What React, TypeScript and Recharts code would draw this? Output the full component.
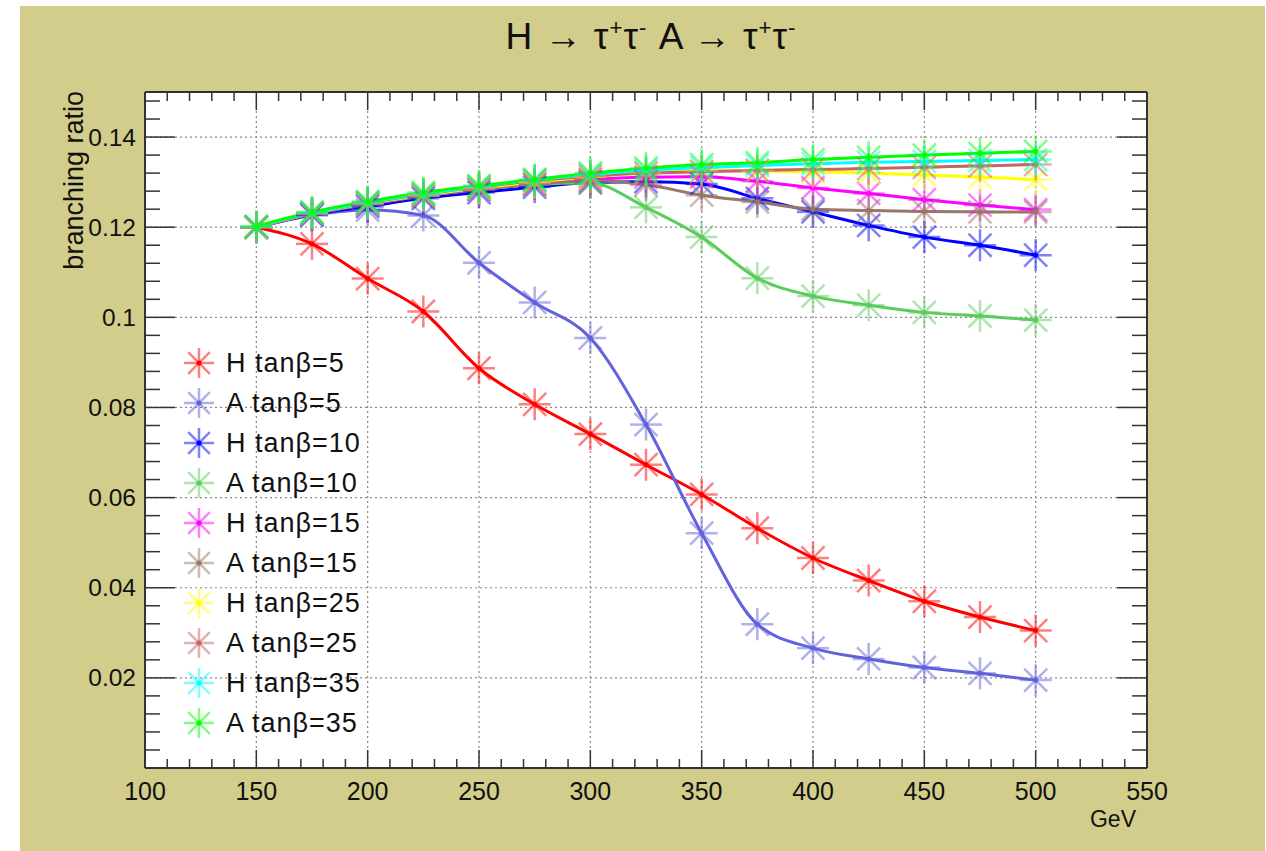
import React from "react";
import { LineChart, Line, XAxis, YAxis, CartesianGrid, Legend, ReferenceLine } from "recharts";

// Higgs masses (GeV)
const masses = [150, 175, 200, 225, 250, 275, 300, 325, 350, 375, 400, 425, 450, 475, 500];

// branching ratio to tau tau, per boson and tan(beta)
const hTanb5 = [0.12, 0.1163, 0.1086, 0.1013, 0.0887, 0.0807, 0.0741, 0.0673, 0.0607, 0.0532, 0.0466, 0.0416, 0.037, 0.0335, 0.0305];
const aTanb5 = [0.12, 0.1226, 0.1238, 0.1226, 0.1121, 0.1033, 0.0954, 0.0762, 0.0521, 0.0319, 0.0266, 0.0242, 0.0223, 0.021, 0.0195];
const hTanb10 = [0.12, 0.1228, 0.1246, 0.1264, 0.1277, 0.1289, 0.1299, 0.1301, 0.1296, 0.1264, 0.1234, 0.1204, 0.1178, 0.116, 0.1138];
const aTanb10 = [0.12, 0.123, 0.1252, 0.127, 0.1284, 0.1295, 0.1298, 0.1244, 0.1178, 0.1087, 0.1047, 0.1027, 0.1011, 0.1003, 0.0994];
const hTanb15 = [0.12, 0.123, 0.1251, 0.1269, 0.1284, 0.1296, 0.1306, 0.1311, 0.1312, 0.1302, 0.1287, 0.1275, 0.1261, 0.1249, 0.1239];
const aTanb15 = [0.12, 0.123, 0.1251, 0.1269, 0.1284, 0.1296, 0.1303, 0.1294, 0.1271, 0.1256, 0.124, 0.1237, 0.1235, 0.1234, 0.1234];
const hTanb25 = [0.12, 0.1231, 0.1253, 0.1271, 0.1287, 0.13, 0.1312, 0.132, 0.1325, 0.1325, 0.1323, 0.132, 0.1316, 0.1311, 0.1306];
const aTanb25 = [0.12, 0.1231, 0.1254, 0.1273, 0.1289, 0.1303, 0.1313, 0.132, 0.1323, 0.1326, 0.1328, 0.133, 0.1333, 0.1336, 0.1339];
const hTanb35 = [0.1201, 0.1232, 0.1255, 0.1274, 0.129, 0.1305, 0.1317, 0.1326, 0.1332, 0.1337, 0.1341, 0.1344, 0.1346, 0.1348, 0.135];
const aTanb35 = [0.1202, 0.1234, 0.1257, 0.1277, 0.1292, 0.1306, 0.132, 0.1331, 0.1339, 0.1343, 0.135, 0.1355, 0.136, 0.1364, 0.1368];

// labelled (major) ticks
const xTicks = [100, 150, 200, 250, 300, 350, 400, 450, 500, 550];
const yTicks = [0.02, 0.04, 0.06, 0.08, 0.1, 0.12, 0.14];

const series = [
  { key: "hTanb5", name: "H tanβ=5", color: "#ff0000", values: hTanb5 },
  { key: "aTanb5", name: "A tanβ=5", color: "#6262dc", values: aTanb5 },
  { key: "hTanb10", name: "H tanβ=10", color: "#0000ff", values: hTanb10 },
  { key: "aTanb10", name: "A tanβ=10", color: "#5ccc5c", values: aTanb10 },
  { key: "hTanb15", name: "H tanβ=15", color: "#ff00ff", values: hTanb15 },
  { key: "aTanb15", name: "A tanβ=15", color: "#997766", values: aTanb15 },
  { key: "hTanb25", name: "H tanβ=25", color: "#ffff00", values: hTanb25 },
  { key: "aTanb25", name: "A tanβ=25", color: "#c86464", values: aTanb25 },
  { key: "hTanb35", name: "H tanβ=35", color: "#00ffff", values: hTanb35 },
  { key: "aTanb35", name: "A tanβ=35", color: "#00ff00", values: aTanb35 },
];

const data = masses.map((m, i) => {
  const row: Record<string, number> = { mass: m };
  series.forEach((s) => (row[s.key] = s.values[i]));
  return row;
});

// every tick position, major + minor
const xAllTicks: number[] = [];
for (let v = 100; v <= 550; v += 10) xAllTicks.push(v);
const yAllTicks: number[] = [];
for (let k = 0; k <= 37; k++) yAllTicks.push(+(k * 0.004).toFixed(3));

const isMajorX = (v: number) => xTicks.includes(v);
const isMajorY = (v: number) => yTicks.some((t) => Math.abs(t - v) < 1e-9) || v === 0;

const FONT = '"Liberation Sans", Arial, Helvetica, sans-serif';
const FRAME = "#333";
const INK = "#111";
const X_MAJOR = 18;
const X_MINOR = 9;
const Y_MAJOR = 30;
const Y_MINOR = 15;

// tick renderers; with tickSize=0 / tickMargin=0 x,y sit on the frame edge
const BottomTick = ({ x, y, payload }: any) => {
  const major = isMajorX(payload.value);
  return (
    <g>
      <line x1={x} x2={x} y1={y} y2={y - (major ? X_MAJOR : X_MINOR)} stroke={FRAME} strokeWidth={1.5} />
      {major && (
        <text x={x} y={y + 32} textAnchor="middle" fontSize={25} fontFamily={FONT} fill={INK}>
          {payload.value}
        </text>
      )}
    </g>
  );
};

const TopTick = ({ x, y, payload }: any) => {
  const major = isMajorX(payload.value);
  return <line x1={x} x2={x} y1={y} y2={y + (major ? X_MAJOR : X_MINOR)} stroke={FRAME} strokeWidth={1.5} />;
};

const LeftTick = ({ x, y, payload }: any) => {
  const v = payload.value;
  const major = isMajorY(v);
  return (
    <g>
      <line x1={x} x2={x + (major ? Y_MAJOR : Y_MINOR)} y1={y} y2={y} stroke={FRAME} strokeWidth={1.5} />
      {major && v !== 0 && (
        <text x={x - 9} y={y + 8.5} textAnchor="end" fontSize={24.5} fontFamily={FONT} fill={INK}>
          {String(v)}
        </text>
      )}
    </g>
  );
};

const RightTick = ({ x, y, payload }: any) => {
  const major = isMajorY(payload.value);
  return <line x1={x} x2={x - (major ? Y_MAJOR : Y_MINOR)} y1={y} y2={y} stroke={FRAME} strokeWidth={1.5} />;
};

// asterisk marker like ROOT's kStar
const Star = ({ cx, cy, color, r }: { cx: number; cy: number; color: string; r: number }) => {
  const d = r * 0.72;
  return (
    <g>
      <g stroke={color} strokeWidth={2.5} strokeOpacity={0.5}>
        <line x1={cx - r} y1={cy} x2={cx + r} y2={cy} />
        <line x1={cx} y1={cy - r} x2={cx} y2={cy + r} />
        <line x1={cx - d} y1={cy - d} x2={cx + d} y2={cy + d} />
        <line x1={cx - d} y1={cy + d} x2={cx + d} y2={cy - d} />
      </g>
      <circle cx={cx} cy={cy} r={2.5} fill={color} />
    </g>
  );
};

const starDot = (color: string) => (props: any) => {
  const { cx, cy, index } = props;
  if (cx == null || cy == null) return <g key={`${color}-${index}`} />;
  return (
    <g key={`${color}-${index}`}>
      <Star cx={cx} cy={cy} color={color} r={16} />
    </g>
  );
};

const LegendBox = () => (
  <div style={{ fontFamily: FONT, fontSize: 27, color: INK }}>
    {series.map((s) => (
      <div key={s.key} style={{ display: "flex", alignItems: "center", height: 40 }}>
        <svg width={36} height={36} style={{ marginRight: 9 }}>
          <Star cx={18} cy={18} color={s.color} r={15} />
        </svg>
        <span style={{ letterSpacing: 1 }}>{s.name}</span>
      </div>
    ))}
  </div>
);

const sup = { fontSize: "0.6em", position: "relative" as const, top: "-0.65em" };

export default function App() {
  return (
    <div style={{ position: "absolute", left: 0, top: 0, width: 1266, height: 851, background: "#fff" }}>
      <div style={{ position: "absolute", left: 20, top: 6, width: 1245, height: 845, background: "#d2cd8a" }} />

      <div
        style={{
          position: "absolute",
          left: 351,
          top: 13,
          width: 600,
          textAlign: "center",
          fontFamily: FONT,
          fontSize: 37,
          lineHeight: "48px",
          color: INK,
          whiteSpace: "pre",
          letterSpacing: 1,
        }}
      >
        H → τ<span style={sup}>+</span>τ<span style={sup}>-</span> A → τ<span style={sup}>+</span>τ<span style={sup}>-</span>
      </div>

      <div style={{ position: "absolute", left: 0, top: 0 }}>
        <LineChart
          width={1266}
          height={851}
          data={data}
          margin={{ top: 91, right: 118, bottom: 82, left: 144 }}
        >
          <CartesianGrid fill="#fff" horizontal={false} vertical={false} />

          {/* dotted grid at the labelled ticks */}
          {xTicks.slice(1, -1).map((v) => (
            <ReferenceLine key={`gx${v}`} x={v} stroke="#8a8a8a" strokeDasharray="2 3" strokeWidth={1.2} />
          ))}
          {yTicks.map((v) => (
            <ReferenceLine key={`gy${v}`} y={v} stroke="#8a8a8a" strokeDasharray="2 3" strokeWidth={1.2} />
          ))}

          {/* one axis per side; together their axis lines form the frame */}
          <XAxis type="number" dataKey="mass" domain={[100, 550]} ticks={xAllTicks} allowDataOverflow interval={0}
            height={1} tickSize={0} tickMargin={0} tickLine={false} tick={<BottomTick />}
            axisLine={{ stroke: FRAME, strokeWidth: 2 }} />
          <XAxis xAxisId="top" orientation="top" type="number" dataKey="mass" domain={[100, 550]} ticks={xAllTicks}
            allowDataOverflow interval={0} height={1} tickSize={0} tickMargin={0} tickLine={false} tick={<TopTick />}
            axisLine={{ stroke: FRAME, strokeWidth: 2 }} />
          <YAxis type="number" domain={[0, 0.15]} ticks={yAllTicks} allowDataOverflow interval={0}
            width={1} tickSize={0} tickMargin={0} tickLine={false} tick={<LeftTick />}
            axisLine={{ stroke: FRAME, strokeWidth: 2 }} />
          <YAxis yAxisId="right" orientation="right" type="number" domain={[0, 0.15]} ticks={yAllTicks}
            allowDataOverflow interval={0} width={1} tickSize={0} tickMargin={0} tickLine={false} tick={<RightTick />}
            axisLine={{ stroke: FRAME, strokeWidth: 2 }} />

          {series.map((s) => (
            <Line
              key={s.key}
              type="monotone"
              dataKey={s.key}
              name={s.name}
              stroke={s.color}
              strokeWidth={3}
              dot={starDot(s.color)}
              activeDot={false}
              isAnimationActive={false}
            />
          ))}

          <Legend
            layout="vertical"
            align="center"
            verticalAlign="middle"
            content={() => <LegendBox />}
            wrapperStyle={{ left: 181, top: 343, width: 220 }}
          />
        </LineChart>
      </div>

      <div
        style={{
          position: "absolute",
          left: 61,
          top: 91,
          writingMode: "vertical-rl",
          transform: "rotate(180deg)",
          fontFamily: FONT,
          fontSize: 27,
          lineHeight: 1,
          color: INK,
        }}
      >
        branching ratio
      </div>

      <div
        style={{
          position: "absolute",
          left: 1036,
          top: 806,
          width: 100,
          textAlign: "right",
          fontFamily: FONT,
          fontSize: 23,
          color: INK,
        }}
      >
        GeV
      </div>
    </div>
  );
}
